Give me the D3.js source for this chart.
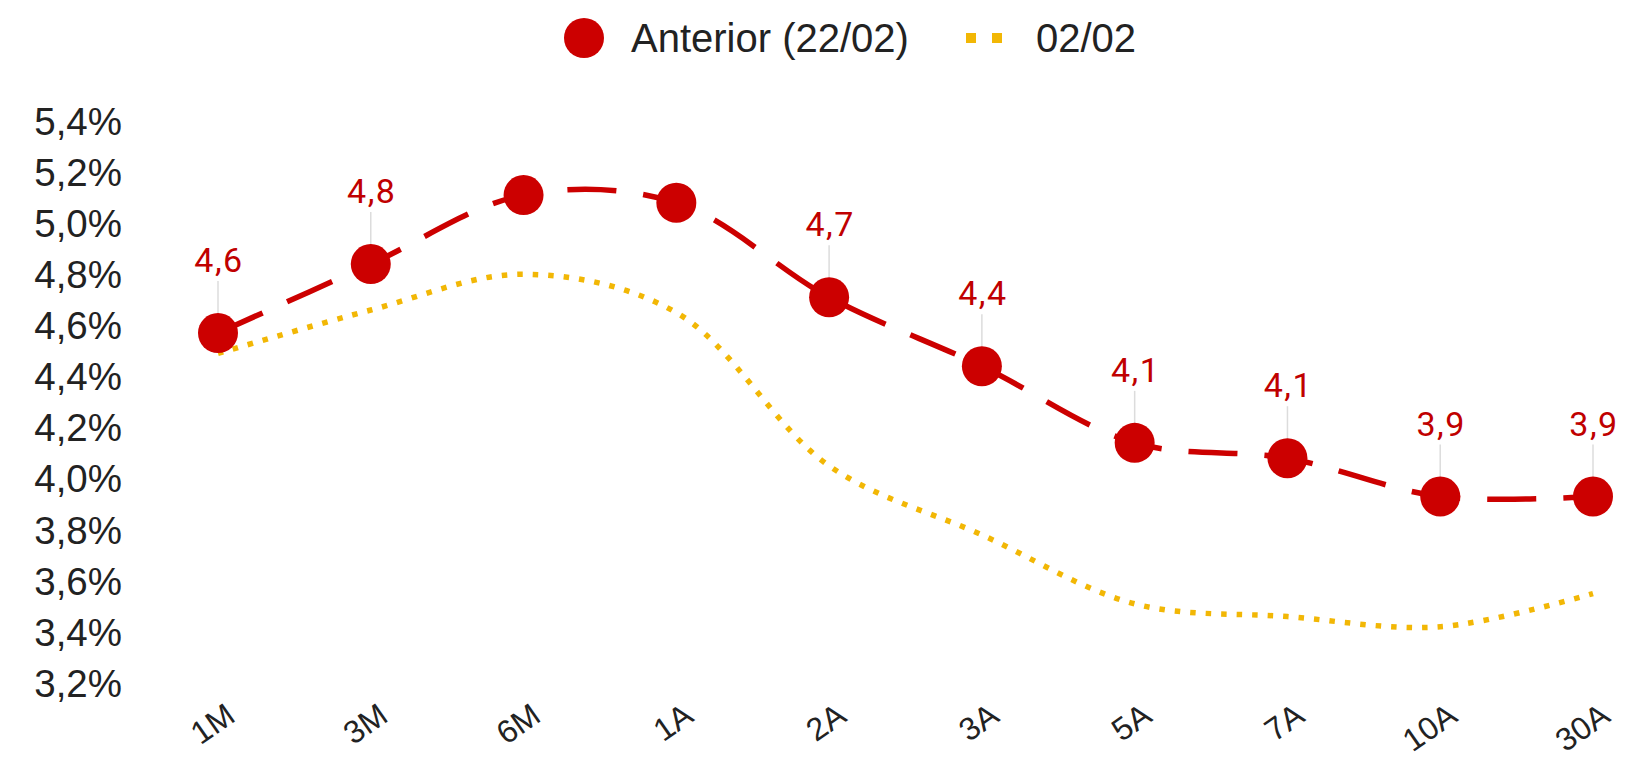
<!DOCTYPE html>
<html><head><meta charset="utf-8">
<script src="https://cdn.jsdelivr.net/npm/d3@7"></script>
<style>body{margin:0;background:#fff}svg{display:block}</style>
</head><body><svg id="c" width="1626" height="761"></svg>
<script>
const categories = ["1M","3M","6M","1A","2A","3A","5A","7A","10A","30A"];
const anterior = [4.57,4.84,5.11,5.08,4.71,4.44,4.14,4.08,3.93,3.93];
const current = [4.49,4.66,4.80,4.65,4.05,3.78,3.51,3.46,3.42,3.55];
const showLabel = [true,true,false,false,true,true,true,true,true,true];
const yTicks = [3.2,3.4,3.6,3.8,4.0,4.2,4.4,4.6,4.8,5.0,5.2,5.4];
const seriesNames = ["Anterior (22/02)","02/02"];

const RED="#cc0000", YEL="#f2b705";
const svg=d3.select("#c");
const x=d3.scalePoint().domain(categories).range([218,1593]);
const y=d3.scaleLinear().domain([3.2,5.4]).range([683,121]);
const fmt=v=>d3.format(".1f")(v).replace(".",",");

// y axis labels
svg.append("g").selectAll("text").data(yTicks).join("text")
  .attr("x",122).attr("y",d=>y(d)).attr("dy","0.36em").attr("text-anchor","end")
  .attr("font-family","Liberation Sans, Arial, sans-serif").attr("font-size",38.5).attr("fill","#222")
  .text(d=>fmt(d)+"%");

// x axis labels
svg.append("g").selectAll("text").data(categories).join("text")
  .attr("transform",d=>`translate(${x(d)+19},720) rotate(-35)`)
  .attr("text-anchor","end")
  .attr("font-family","Liberation Sans, Arial, sans-serif").attr("font-size",32).attr("fill","#222")
  .text(d=>d);

const line=d3.line().x((d,i)=>x(categories[i])).y(d=>y(d)).curve(d3.curveCatmullRom.alpha(0.5));

svg.append("path").datum(current).attr("d",line).attr("fill","none")
  .attr("stroke",YEL).attr("stroke-width",5.5).attr("stroke-dasharray","5.5 10");
svg.append("path").datum(anterior).attr("d",line).attr("fill","none")
  .attr("stroke",RED).attr("stroke-width",5.5).attr("stroke-dasharray","49 27");

// connectors + labels
const lab=svg.append("g");
anterior.forEach((v,i)=>{
  if(!showLabel[i])return;
  const cx=x(categories[i]), cy=y(v);
  lab.append("line").attr("x1",cx).attr("x2",cx).attr("y1",cy-52).attr("y2",cy-19)
    .attr("stroke","#dcdcdc").attr("stroke-width",1.5);
  lab.append("text").attr("x",cx+1).attr("y",cy-61).attr("text-anchor","middle")
    .attr("font-family","Roboto, sans-serif").attr("font-size",34).attr("letter-spacing",1.5)
    .attr("fill","#c00000").text(fmt(v));
});

svg.append("g").selectAll("circle").data(anterior).join("circle")
  .attr("cx",(d,i)=>x(categories[i])).attr("cy",d=>y(d)).attr("r",20).attr("fill",RED);

// legend
const lg=svg.append("g");
lg.append("circle").attr("cx",584).attr("cy",38).attr("r",20).attr("fill",RED);
lg.append("text").attr("x",631).attr("y",38).attr("dy","0.36em")
  .attr("font-family","Liberation Sans, Arial, sans-serif").attr("font-size",40).attr("fill","#222").text(seriesNames[0]);
lg.append("line").attr("x1",966).attr("x2",1002).attr("y1",38).attr("y2",38)
  .attr("stroke",YEL).attr("stroke-width",10).attr("stroke-dasharray","10 16");
lg.append("text").attr("x",1036).attr("y",38).attr("dy","0.36em")
  .attr("font-family","Liberation Sans, Arial, sans-serif").attr("font-size",40).attr("fill","#222").text(seriesNames[1]);
</script></body></html>
